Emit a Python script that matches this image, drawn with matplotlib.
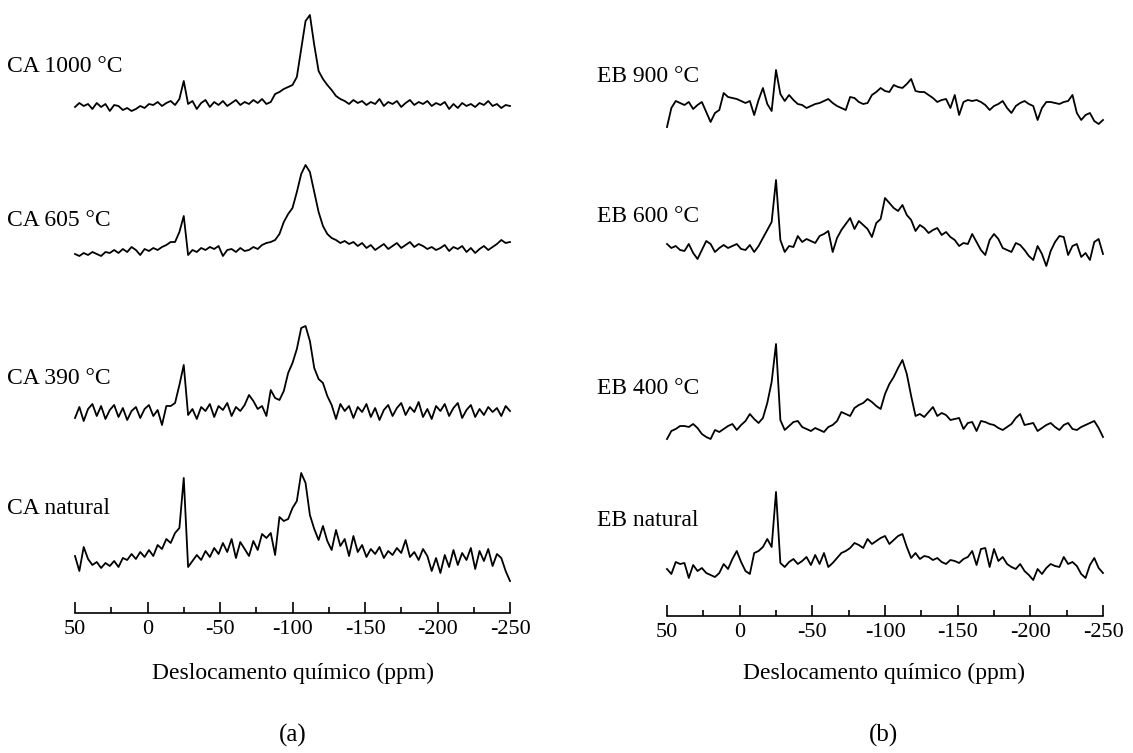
import numpy as np
import matplotlib.pyplot as plt

plt.rcParams['font.family'] = ['Liberation Serif', 'DejaVu Serif']

# chemical shift grid (ppm), every 3 ppm from 50 to -250
ppm = np.arange(50, -251, -3)

# intensities above each trace's baseline (arbitrary units)
ca_1000 = [0, 4, 1, 3, -2, 4, 0, 3, -4, 2, 1, -3, -1, -4, -2, 1, -1, 3, 2, 5,
           1, 4, 6, 2, 8, 26, 3, 6, -2, 4, 7, 0, 5, 2, 6, 1, 4, 7, 2, 5,
           3, 7, 4, 8, 3, 5, 13, 15, 18, 20, 22, 30, 58, 86, 92, 62, 36, 28, 22, 17,
           11, 8, 6, 3, 7, 4, 6, 2, 5, 3, 8, 1, 5, 3, 6, 0, 4, 7, 2, 5,
           3, 6, 1, 4, 2, 5, -2, 3, -1, 4, 1, 3, 0, 4, 2, 6, 1, 3, -1, 2, 1]
ca_605 = [-2, -4, -1, -3, 0, -2, -4, 0, -1, 2, -1, 3, 0, 5, 2, -3, 3, 1, 4, 2,
          5, 7, 10, 10, 20, 36, -3, 2, 0, 4, 2, 5, 3, 6, -4, 2, 3, 0, 4, 1,
          2, 5, 3, 7, 9, 10, 12, 18, 30, 38, 44, 60, 78, 87, 80, 60, 40, 26, 18, 14,
          12, 9, 11, 8, 10, 6, 9, 4, 7, 2, 5, 8, 3, 6, 9, 4, 7, 10, 5, 8,
          6, 3, 5, 2, 4, 7, 1, 5, 3, 6, 0, 4, -1, 3, 6, 2, 5, 8, 12, 9, 10]
ca_390 = [-5, 6, -8, 4, 9, -3, 7, -6, 3, 8, -4, 5, -7, 2, 6, -5, 4, 8, -3, 3,
          -12, 7, 7, 10, 28, 48, -2, 4, -6, 6, 2, 9, -4, 7, 3, 10, -3, 6, 2, 8,
          18, 12, 4, 7, -3, 23, 15, 13, 22, 40, 50, 64, 85, 87, 72, 45, 34, 30, 17, 8,
          -6, 9, 2, 7, -5, 6, 1, 9, -4, 5, -7, 3, 8, -3, 5, 10, -2, 6, 1, 11,
          -4, 4, -6, 7, 2, 9, -3, 5, 10, -5, 3, 8, -4, 4, -2, 6, 1, 5, -3, 7, 2]
ca_natural = [7, -8, 16, 4, -2, 1, -5, 0, -3, 2, -4, 5, 3, 9, 4, 11, 6, 13, 7, 18,
              14, 24, 20, 30, 35, 85, -4, 2, 8, 3, 12, 6, 15, 9, 20, 11, 24, 5, 21, 14,
              7, 22, 13, 29, 25, 30, 8, 46, 42, 44, 55, 62, 90, 80, 48, 34, 23, 37, 22, 13,
              33, 17, 24, 7, 27, 11, 18, 6, 14, 9, 16, 5, 12, 8, 15, 10, 23, 6, 11, 3,
              14, 7, -8, 5, -10, 8, -4, 13, -2, 10, 3, 15, -6, 12, 2, 14, -3, 9, 5, -8, -18]

eb_900 = [-21, -2, 5, 3, 1, 4, -3, 1, 4, -6, -16, -7, -4, 13, 9, 8, 7, 5, 3, 5,
          -9, 6, 18, 2, -5, 36, 12, 5, 11, 6, 2, 1, -2, 0, 2, 3, 5, 7, 3, 0,
          -2, -4, 9, 8, 4, 2, 3, 11, 14, 18, 15, 14, 21, 19, 18, 22, 27, 15, 14, 14,
          11, 8, 4, 6, 7, -2, 11, -9, 4, 6, 5, 6, 4, 1, -4, 0, 2, 5, -2, -7,
          0, 3, 5, 2, 0, -14, -2, 4, 4, 3, 2, 4, 5, 11, -7, -14, -9, -7, -15, -18, -14]
eb_600 = [4, 0, 2, -2, -3, 4, -5, -11, -2, 7, 4, -4, 0, 3, 0, 2, 4, -1, -2, 3,
          -4, 2, 10, 18, 26, 68, 8, -4, 2, 1, 12, 6, 9, 7, 5, 12, 14, 17, -4, 10,
          18, 24, 30, 19, 27, 23, 19, 11, 25, 29, 50, 45, 40, 37, 43, 33, 28, 17, 23, 20,
          15, 18, 20, 13, 16, 11, 8, 2, 5, 4, 14, 6, -2, -7, 8, 14, 9, 0, -2, -4,
          5, 3, -2, -8, -12, 2, -6, -18, -3, 6, 12, 11, -7, 2, 4, -9, -5, -12, 6, 9, -6]
eb_400 = [-7, 1, 3, 6, 6, 5, 8, 4, -2, -5, -7, 2, 0, 3, 6, 8, 2, 7, 11, 18,
          13, 9, 14, 29, 50, 88, 12, 2, 6, 10, 11, 5, 3, 1, 4, 2, 0, 5, 7, 11,
          20, 18, 16, 24, 27, 29, 33, 30, 26, 23, 38, 48, 55, 64, 72, 58, 36, 16, 18, 15,
          20, 25, 16, 19, 17, 12, 13, 14, 3, 9, 10, 1, 11, 10, 8, 7, 4, 2, 5, 8,
          14, 18, 7, 8, 9, 1, 4, 7, 9, 5, 2, 7, 9, 3, 2, 5, 7, 9, 11, 4, -5]
eb_natural = [0, -5, 7, 5, 6, -9, 4, -2, 1, -4, -6, -8, -4, 5, 0, 10, 18, 7, -2, -5,
              16, 18, 22, 30, 22, 77, 6, 2, 7, 10, 5, 8, 12, 4, 14, 5, 16, 2, 6, 11,
              16, 18, 21, 26, 24, 21, 30, 25, 28, 31, 33, 25, 29, 33, 35, 22, 11, 16, 10, 13,
              12, 9, 11, 7, 5, 9, 8, 6, 10, 12, 18, 4, 20, 21, 2, 20, 8, 12, 5, 2,
              0, 5, -2, -6, -11, 0, -5, 1, 5, 3, 2, 12, 5, 7, 3, -5, -9, 4, 11, 1, -4]

ca_labels = ['CA 1000 °C', 'CA 605 °C', 'CA 390 °C', 'CA natural']
eb_labels = ['EB 900 °C', 'EB 600 °C', 'EB 400 °C', 'EB natural']
tick_values = [50, 0, -50, -100, -150, -200, -250]
tick_labels = ['50', '0', '-50', '-100', '-150', '-200', '-250']

W, H = 1133, 753
fig = plt.figure(figsize=(W / 100, H / 100), dpi=100)


def px(x, y):
    return x / W, 1 - y / H


def panel(x0, x1, y_axis, traces, offsets):
    ax = fig.add_axes([x0 / W, 1 - y_axis / H, (x1 - x0) / W, y_axis / H])
    ax.patch.set_alpha(0)
    for tr, off in zip(traces, offsets):
        ax.plot(ppm, np.array(tr) + off, color='black', lw=1.3, clip_on=False)
    ax.set_xlim(50, -250)
    ax.set_ylim(0, y_axis)
    for s in ['top', 'left', 'right']:
        ax.spines[s].set_visible(False)
    ax.spines['bottom'].set_linewidth(1.2)
    ax.set_yticks([])
    ax.set_xticks(tick_values)
    ax.set_xticklabels(tick_labels)
    ax.set_xticks(np.arange(25, -250, -50), minor=True)
    ax.tick_params(axis='x', which='major', direction='in', length=8, width=1.2,
                   labelsize=16, pad=5)
    ax.tick_params(axis='x', which='minor', direction='in', length=4, width=1.2)
    return ax


panel(75, 510, 613, [ca_1000, ca_605, ca_390, ca_natural], [506, 361, 200, 50])
panel(667, 1103, 616, [eb_900, eb_600, eb_400, eb_natural], [510, 368, 184, 47])

for lab, y in zip(ca_labels, [67, 220, 378, 508]):
    fig.text(*px(7, y), lab, fontsize=17, ha='left', va='center')
for lab, y in zip(eb_labels, [76, 216, 388, 521]):
    fig.text(*px(597, y), lab, fontsize=17, ha='left', va='center')

fig.text(*px(293, 673), 'Deslocamento químico (ppm)', fontsize=17, ha='center', va='center')
fig.text(*px(884, 673), 'Deslocamento químico (ppm)', fontsize=17, ha='center', va='center')
fig.text(*px(293, 735), '(a)', fontsize=18, ha='center', va='center')
fig.text(*px(883, 735), '(b)', fontsize=18, ha='center', va='center')

fig.savefig('out.png', dpi=100)
